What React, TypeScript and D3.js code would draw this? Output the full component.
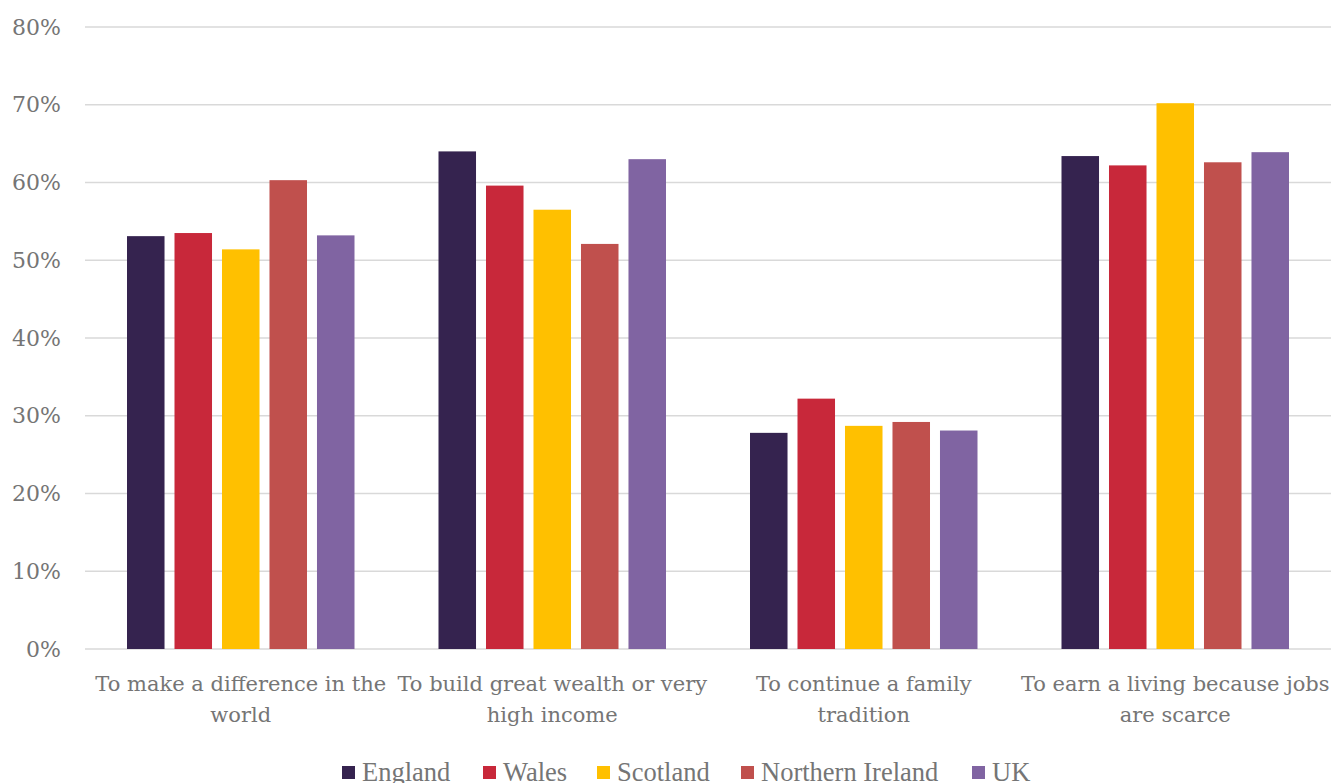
import React from "react";
import * as d3 from "d3";

const categories = [
  ["To make a difference in the", "world"],
  ["To build great wealth or very", "high income"],
  ["To continue a family", "tradition"],
  ["To earn a living because jobs", "are scarce"],
];
const seriesNames = ["England", "Wales", "Scotland", "Northern Ireland", "UK"];
const seriesColors = ["#35234f", "#c8283a", "#ffc000", "#c0504d", "#8064a2"];
const england = [53.1, 64.0, 27.8, 63.4];
const wales = [53.5, 59.6, 32.2, 62.2];
const scotland = [51.4, 56.5, 28.7, 70.2];
const northernIreland = [60.3, 52.1, 29.2, 62.6];
const uk = [53.2, 63.0, 28.1, 63.9];
const seriesValues = [england, wales, scotland, northernIreland, uk];
const yTicks = [0, 10, 20, 30, 40, 50, 60, 70, 80];

const W = 1331;
const H = 783;
const left = 85;
const right = 1331;
const top = 27;
const bottom = 649;
const textColor = "#757575";
const font = "'DejaVu Serif', serif";

export default function App() {
  const x0 = d3.scaleBand<number>().domain(d3.range(categories.length)).range([left, right]).paddingInner(0).paddingOuter(0);
  const inner = 227.5;
  const x1 = d3
    .scaleBand<number>()
    .domain(d3.range(seriesNames.length))
    .range([(x0.bandwidth() - inner) / 2, (x0.bandwidth() + inner) / 2])
    .paddingInner(0.21)
    .paddingOuter(0);
  const y = d3.scaleLinear().domain([0, 80]).range([bottom, top]);

  const legendX = [342, 483, 597, 741, 972];

  return (
    <svg width={W} height={H} style={{ position: "absolute", left: 0, top: 0, background: "#fff" }}>
      {yTicks.map((t) => (
        <g key={t}>
          <line x1={left} x2={right} y1={y(t)} y2={y(t)} stroke="#d9d9d9" strokeWidth={1.5} />
          <text x={61} y={y(t)} dy="0.35em" textAnchor="end" fill={textColor} fontFamily={font} fontSize={22}>
            {t}%
          </text>
        </g>
      ))}
      {categories.map((c, ci) => (
        <g key={ci} transform={`translate(${x0(ci)},0)`}>
          {seriesValues.map((vals, si) => (
            <rect
              key={si}
              x={x1(si)}
              y={y(vals[ci])}
              width={x1.bandwidth()}
              height={y(0) - y(vals[ci])}
              fill={seriesColors[si]}
            />
          ))}
          {c.map((line, li) => (
            <text
              key={li}
              x={x0.bandwidth() / 2}
              y={691 + li * 31}
              textAnchor="middle"
              fill={textColor}
              fontFamily={font}
              fontSize={21}
            >
              {line}
            </text>
          ))}
        </g>
      ))}
      {seriesNames.map((n, i) => (
        <g key={n} transform={`translate(${legendX[i]},0)`}>
          <rect x={0} y={766} width={13} height={13} fill={seriesColors[i]} />
          <text x={20} y={781} fill={textColor} fontFamily="'Liberation Serif', serif" fontSize={26.5}>
            {n}
          </text>
        </g>
      ))}
    </svg>
  );
}
